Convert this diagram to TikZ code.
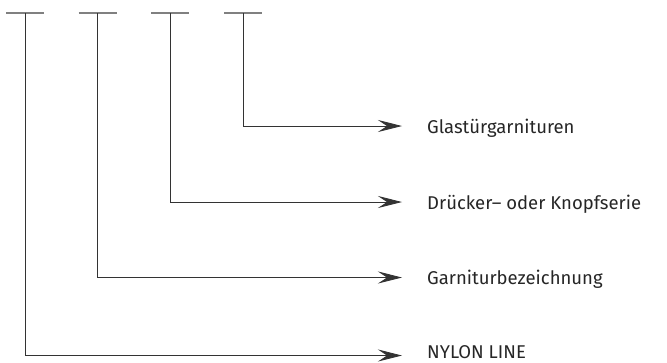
\documentclass[tikz,border=0pt]{standalone}
\usepackage{fontspec}
\setmainfont{Fira Sans}
\usetikzlibrary{arrows.meta}
\tikzset{
  conn/.style={draw=black!80, line width=0.9pt},
  bar/.style={draw=black!50, line width=1.1pt},
  tip/.style={-{Stealth[length=24pt,width=12pt,inset=9pt]}},
  lab/.style={anchor=base west, inner sep=0pt, font=\fontsize{18.5}{22}\selectfont, text=black!85}
}
\begin{document}
\begin{tikzpicture}[x=1pt,y=-1pt]
\useasboundingbox (0,0) rectangle (667,362);
% top bars
\coordinate (t1) at (25,13);
\coordinate (t2) at (97.5,13);
\coordinate (t3) at (170,13);
\coordinate (t4) at (243,13);
\foreach \i in {1,...,4} {
  \draw[bar] ([xshift=-19pt]t\i) -- ([xshift=19pt]t\i);
}
% labels
\node[lab] (l4) at (427,133.3) {Glastürgarnituren};
\node[lab] (l3) at (427,209.3) {Drücker– oder Knopfserie};
\node[lab] (l2) at (427,284.8) {Garniturbezeichnung};
\node[lab] (l1) at (427,358.5) {NYLON LINE};
% corners
\coordinate (c4) at (243,126);
\coordinate (c3) at (170,202);
\coordinate (c2) at (97.5,277.5);
\coordinate (c1) at (25,355.5);
\coordinate (e4) at (402,126);
\coordinate (e3) at (402,202);
\coordinate (e2) at (402,277.5);
\coordinate (e1) at (402,355.5);
\foreach \i in {1,...,4} {
  \draw[conn] (t\i) -- (c\i);
  \draw[conn,tip] (c\i) -- (e\i);
}
\end{tikzpicture}
\end{document}
